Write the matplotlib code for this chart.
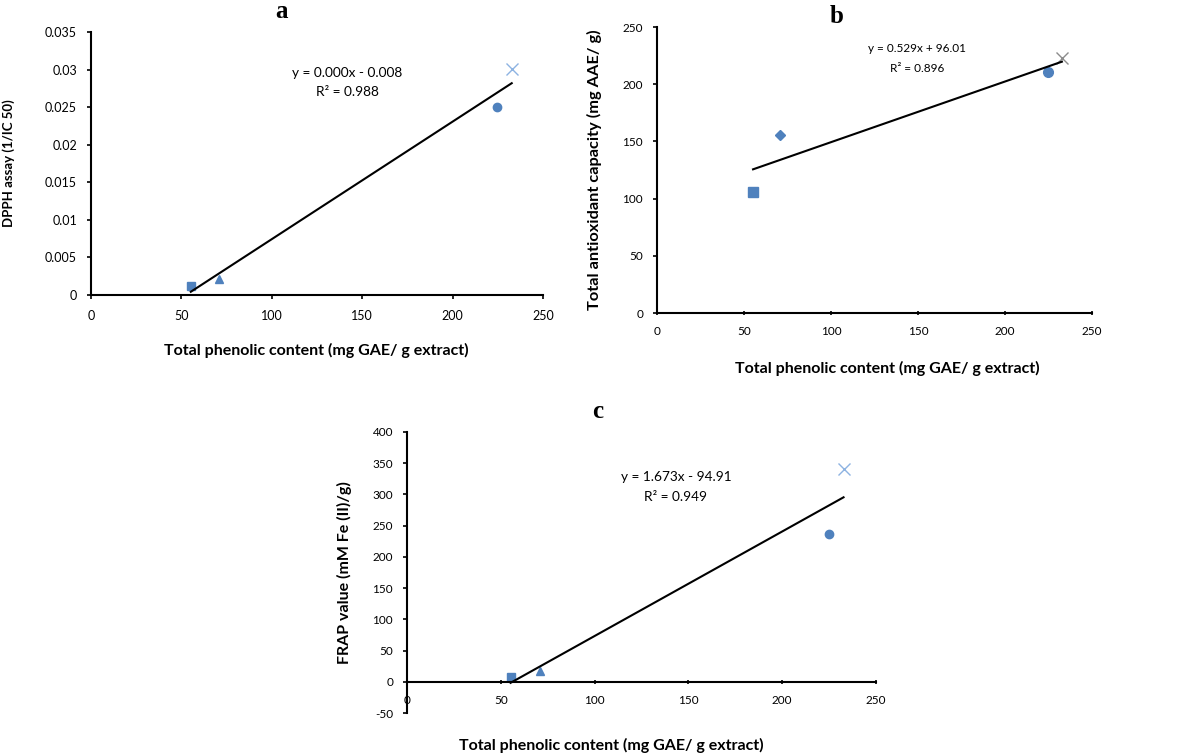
import numpy as np
import matplotlib.pyplot as plt

plt.rcParams['font.family'] = ['Lato', 'DejaVu Sans']

# total phenolic content of the four extracts (shared x values)
tpc = [55.2, 70.7, 224.7, 232.7]
# y values per assay
dpph = [0.0012, 0.0021, 0.0250, 0.0301]
tac = [106, 155.5, 210.5, 222.5]
frap = [7, 17, 236, 340]

eq_a = ['y = 0.000x - 0.008', 'R\u00b2 = 0.988']
eq_b = ['y = 0.529x + 96.01', 'R\u00b2 = 0.896']
eq_c = ['y = 1.673x - 94.91', 'R\u00b2 = 0.949']

yticks_a = [0, 0.005, 0.01, 0.015, 0.02, 0.025, 0.03, 0.035]
ylabels_a = ['0', '0.005', '0.01', '0.015', '0.02', '0.025', '0.03', '0.035']
yticks_b = [0, 50, 100, 150, 200, 250]
yticks_c = [-50, 0, 50, 100, 150, 200, 250, 300, 350, 400]
xticks = [0, 50, 100, 150, 200, 250]

xlabel = 'Total phenolic content (mg GAE/ g extract)'
BLUE = '#4f81bd'
LIGHT = '#8db3e2'
GRAY = '#8c8c8c'

W, H = 1200, 754
fig = plt.figure(figsize=(W / 100, H / 100), dpi=100)


def px_axes(left, top, right, bottom):
    return fig.add_axes([left / W, 1 - bottom / H, (right - left) / W, (bottom - top) / H])


def style(ax, xdir='out', ts=8.5):
    for s in ['top', 'right']:
        ax.spines[s].set_visible(False)
    for s in ['left', 'bottom']:
        ax.spines[s].set_linewidth(1.5)
    ax.tick_params(axis='y', direction='out', length=3, width=1.2, pad=7, labelsize=ts)
    ax.tick_params(axis='x', direction=xdir, length=3, width=1.2, pad=8, labelsize=ts)
    ax.set_xlim(0, 250)
    ax.set_xticks(xticks)
    ax.set_xticklabels([str(t) for t in xticks])


def points(ax, y, markers, sizes, colors):
    for xi, yi, m, s, c in zip(tpc, y, markers, sizes, colors):
        if m == 'x':
            ax.plot(xi, yi, marker=m, ms=s, mew=1.0, color=c, ls='none', clip_on=False)
        else:
            ax.plot(xi, yi, marker=m, ms=s, mfc=c, mec=c, ls='none', clip_on=False)
    k, b = np.polyfit(tpc, y, 1)
    xs = np.array([min(tpc), max(tpc)])
    ax.plot(xs, k * xs + b, color='black', lw=1.5)


def fig_text(x, y, s, **kw):
    fig.text(x / W, 1 - y / H, s, **kw)


# panel a
ax = px_axes(91, 32, 543, 295)
style(ax, 'out', 9)
ax.set_ylim(0, 0.035)
ax.set_yticks(yticks_a)
ax.set_yticklabels(ylabels_a)
points(ax, dpph, ['s', '^', 'o', 'x'], [5.5, 6, 6, 9], [BLUE, BLUE, BLUE, LIGHT])
ax.set_ylabel('DPPH assay (1/IC 50)', fontsize=9.5, fontweight='bold')
ax.yaxis.set_label_coords(-0.168, 0.5)
fig_text(281, 18, 'a', ha='center', va='baseline', fontsize=18, fontweight='bold',
         family='Liberation Serif')
fig_text(316, 350, xlabel, ha='center', va='center', fontsize=11.5, fontweight='bold')
fig_text(347, 73, eq_a[0], ha='center', va='center', fontsize=9.8)
fig_text(347, 92, eq_a[1], ha='center', va='center', fontsize=9.8)

# panel b
ax = px_axes(657, 27, 1092, 313)
style(ax, 'inout', 8.5)
ax.set_ylim(0, 250)
ax.set_yticks(yticks_b)
ax.set_yticklabels([str(t) for t in yticks_b])
points(ax, tac, ['s', 'D', 'o', 'x'], [7.5, 5.5, 7, 8], [BLUE, BLUE, BLUE, GRAY])
ax.set_ylabel('Total antioxidant capacity (mg AAE/ g)', fontsize=11.8, fontweight='bold')
ax.yaxis.set_label_coords(-0.126, 0.5)
fig_text(837, 23, 'b', ha='center', va='baseline', fontsize=18, fontweight='bold',
         family='Liberation Serif')
fig_text(887, 368, xlabel, ha='center', va='center', fontsize=11.5, fontweight='bold')
fig_text(917, 49, eq_b[0], ha='center', va='center', fontsize=8.5)
fig_text(917, 68, eq_b[1], ha='center', va='center', fontsize=8.5)

# panel c
ax = px_axes(407, 432, 876, 713)
style(ax, 'inout', 8.5)
ax.set_ylim(-50, 400)
ax.spines['bottom'].set_position(('data', 0))
ax.set_yticks(yticks_c)
ax.set_yticklabels([str(t) for t in yticks_c])
points(ax, frap, ['s', '^', 'o', 'x'], [5.5, 6, 6, 9], [BLUE, BLUE, BLUE, LIGHT])
ax.set_ylabel('FRAP value (mM Fe (II)/g)', fontsize=11.5, fontweight='bold')
ax.yaxis.set_label_coords((352 - 407) / 469, 0.5)
fig_text(598, 418, 'c', ha='center', va='baseline', fontsize=18, fontweight='bold',
         family='Liberation Serif')
fig_text(611, 745, xlabel, ha='center', va='center', fontsize=11.5, fontweight='bold')
fig_text(676, 477, eq_c[0], ha='center', va='center', fontsize=9.8)
fig_text(676, 497, eq_c[1], ha='center', va='center', fontsize=9.8)

fig.savefig('out.png', dpi=100, facecolor='white')
